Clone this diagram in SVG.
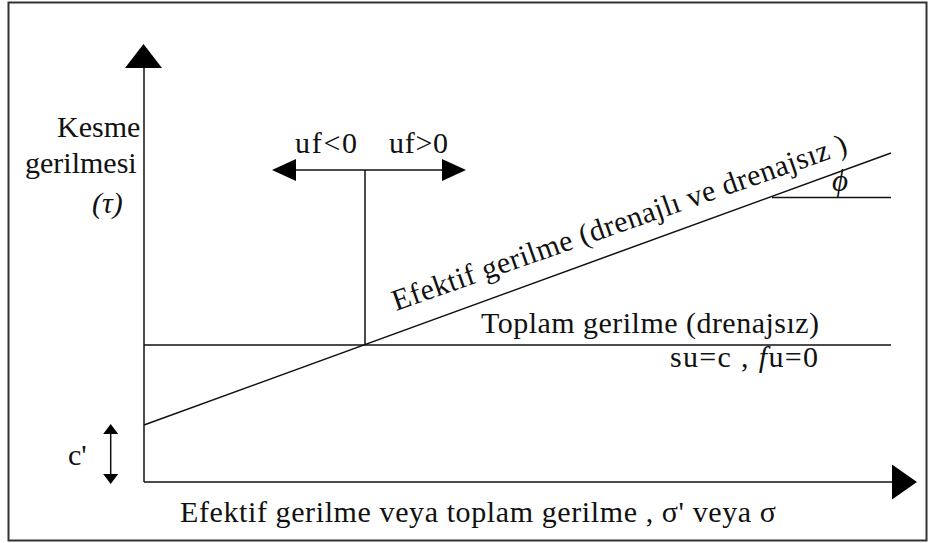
<svg xmlns="http://www.w3.org/2000/svg" width="933" height="543" viewBox="0 0 933 543">
<style>
.ln{stroke:#111;stroke-width:1.5;fill:none}
.ah{fill:#000}
.t{font-family:'Liberation Serif','Times New Roman',serif;font-size:30px;fill:#111}
</style>
<rect x="0" y="0" width="933" height="543" fill="#fff"/>
<rect x="8.5" y="2.5" width="918" height="538" fill="none" stroke="#333" stroke-width="2"/>
<g id="connectors">
  <line class="ln" x1="144" y1="66" x2="144" y2="482"/>
  <line class="ln" x1="144" y1="482" x2="894" y2="482"/>
  <line class="ln" x1="144" y1="345" x2="891" y2="345"/>
  <line class="ln" x1="144" y1="425" x2="891" y2="153"/>
  <line class="ln" x1="772" y1="197.5" x2="891" y2="197.5"/>
  <line class="ln" x1="365" y1="170" x2="365" y2="345"/>
  <line class="ln" x1="294" y1="170" x2="444" y2="170"/>
  <line class="ln" x1="110.7" y1="432" x2="110.7" y2="476"/>
  <polygon class="ah" points="143.5,44 162,68 125,68"/>
  <polygon class="ah" points="917,482 892,464.5 892,499.5"/>
  <polygon class="ah" points="272,170 296,159 296,181"/>
  <polygon class="ah" points="466,170 442,159 442,181"/>
  <polygon class="ah" points="110.7,424 118.2,434 103.2,434"/>
  <polygon class="ah" points="110.7,484 118.2,474 103.2,474"/>
</g>
<g class="t">
<g id="y-label">
  <text x="57" y="137">Kesme</text>
  <text x="25" y="173">gerilmesi</text>
  <text x="92" y="213" font-style="italic">(τ)</text>
</g>
<g id="uf-labels">
  <text x="295" y="153" textLength="62">uf&lt;0</text>
  <text x="389" y="153" textLength="59">uf&gt;0</text>
</g>
<g id="effective-label">
  <text transform="translate(396,311) rotate(-19.3)" textLength="480" lengthAdjust="spacing">Efektif gerilme (drenajlı ve drenajsız )</text>
</g>
<g id="phi">
  <text x="832" y="191" font-size="31" font-style="italic">ϕ</text>
</g>
<g id="total-label">
  <text x="481" y="333" textLength="338">Toplam gerilme (drenajsız)</text>
  <text x="670" y="367" textLength="148">su=c , <tspan font-style="italic">f</tspan>u=0</text>
</g>
<g id="c-label">
  <text x="68" y="465">c'</text>
</g>
<g id="x-label">
  <text x="180" y="522" textLength="596">Efektif gerilme veya toplam gerilme , σ' veya σ</text>
</g>
</g>
</svg>
